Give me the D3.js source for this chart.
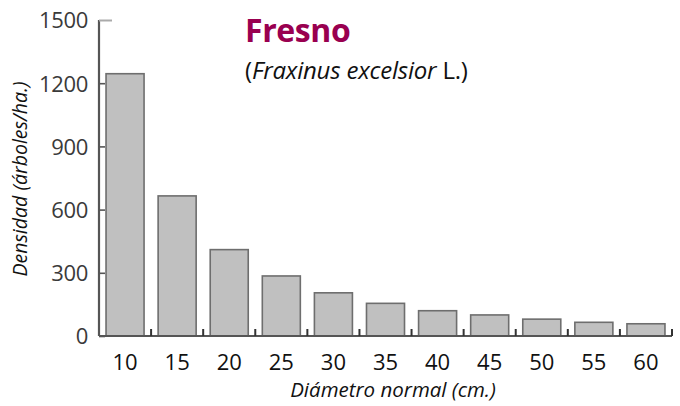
<!DOCTYPE html>
<html>
<head>
<meta charset="utf-8">
<script src="https://cdn.jsdelivr.net/npm/d3@7"></script>
<style>
  body { margin: 0; background: #fff; }
  text { font-family: "Open Sans", "Noto Sans", sans-serif; }
</style>
</head>
<body>
<svg id="chart" width="680" height="406"></svg>
<script>
var diameters = ["10", "15", "20", "25", "30", "35", "40", "45", "50", "55", "60"];
var density = [1245, 665, 410, 285, 205, 155, 120, 100, 80, 65, 58];
var yTicks = [0, 300, 600, 900, 1200, 1500];

var margin = {top: 20, right: 8, bottom: 70, left: 99};
var width = 672 - margin.left;
var height = 336 - margin.top;

var svg = d3.select("#chart");
var g = svg.append("g")
    .attr("transform", "translate(" + margin.left + "," + margin.top + ")");

var x = d3.scaleBand().domain(diameters).range([0, width]).paddingInner(0.27).paddingOuter(0.135);
var y = d3.scaleLinear().domain([0, 1500]).range([height, 0]);

// bars
g.selectAll("rect.bar")
    .data(density)
    .enter().append("rect")
    .attr("class", "bar")
    .attr("x", function (d, i) { return x(diameters[i]); })
    .attr("y", function (d) { return y(d); })
    .attr("width", x.bandwidth())
    .attr("height", function (d) { return height - y(d); })
    .attr("fill", "#c0c0c0")
    .attr("stroke", "#6e6e6e")
    .attr("stroke-width", 1.6);

// y axis
var yAxis = g.append("g").attr("class", "y axis")
    .call(d3.axisRight(y).tickValues(yTicks).tickSize(6).tickFormat(d3.format("d")));
yAxis.select(".domain").attr("stroke", "#555").attr("stroke-width", 2.2).attr("d", "M0,0V" + height);
yAxis.selectAll(".tick line").attr("stroke", "#555").attr("stroke-width", 1.6);
yAxis.selectAll(".tick").filter(function (d) { return d === 1500; })
    .select("line").attr("x2", 13).attr("stroke", "#aaa").attr("stroke-width", 2);
yAxis.selectAll(".tick text")
    .attr("x", -11).attr("text-anchor", "end").attr("dy", "0.36em")
    .attr("fill", "#3a3a3a").attr("font-size", 22).attr("letter-spacing", -0.3);

// x axis with small ticks at band boundaries
var step = x.step();
var boundaries = diameters.map(function (d, i) { return x(d) + x.bandwidth() + (step - x.bandwidth()) / 2; });
var xg = g.append("g").attr("class", "x axis").attr("transform", "translate(0," + height + ")");
xg.append("line").attr("x1", 0).attr("x2", width).attr("stroke", "#555").attr("stroke-width", 2.2);
xg.selectAll("line.tk").data(boundaries).enter().append("line")
    .attr("class", "tk")
    .attr("x1", function (d) { return d; }).attr("x2", function (d) { return d; })
    .attr("y1", 0).attr("y2", -7)
    .attr("stroke", "#333").attr("stroke-width", 2);
xg.selectAll("text").data(diameters).enter().append("text")
    .attr("x", function (d) { return x(d) + x.bandwidth() / 2; })
    .attr("y", 34)
    .attr("text-anchor", "middle")
    .attr("font-size", 22)
    .attr("fill", "#111")
    .text(function (d) { return d; });

// axis titles
svg.append("text")
    .attr("x", 393).attr("y", 397)
    .attr("text-anchor", "middle")
    .attr("font-size", 20.5).attr("font-style", "italic").attr("fill", "#111")
    .text("Diámetro normal (cm.)");
svg.append("text")
    .attr("transform", "translate(27,179) rotate(-90)")
    .attr("text-anchor", "middle")
    .attr("font-size", 19.5).attr("font-style", "italic").attr("fill", "#111")
    .text("Densidad (árboles/ha.)");

// title
svg.append("text")
    .attr("x", 245).attr("y", 42)
    .attr("font-size", 32).attr("font-weight", "bold").attr("fill", "#990050")
    .attr("letter-spacing", -0.4)
    .text("Fresno");
var sub = svg.append("text")
    .attr("x", 245).attr("y", 79)
    .attr("font-size", 24).attr("fill", "#111")
    .attr("letter-spacing", -0.2);
sub.append("tspan").text("(");
sub.append("tspan").attr("font-style", "italic").text("Fraxinus excelsior");
sub.append("tspan").text(" L.)");
</script>
</body>
</html>
